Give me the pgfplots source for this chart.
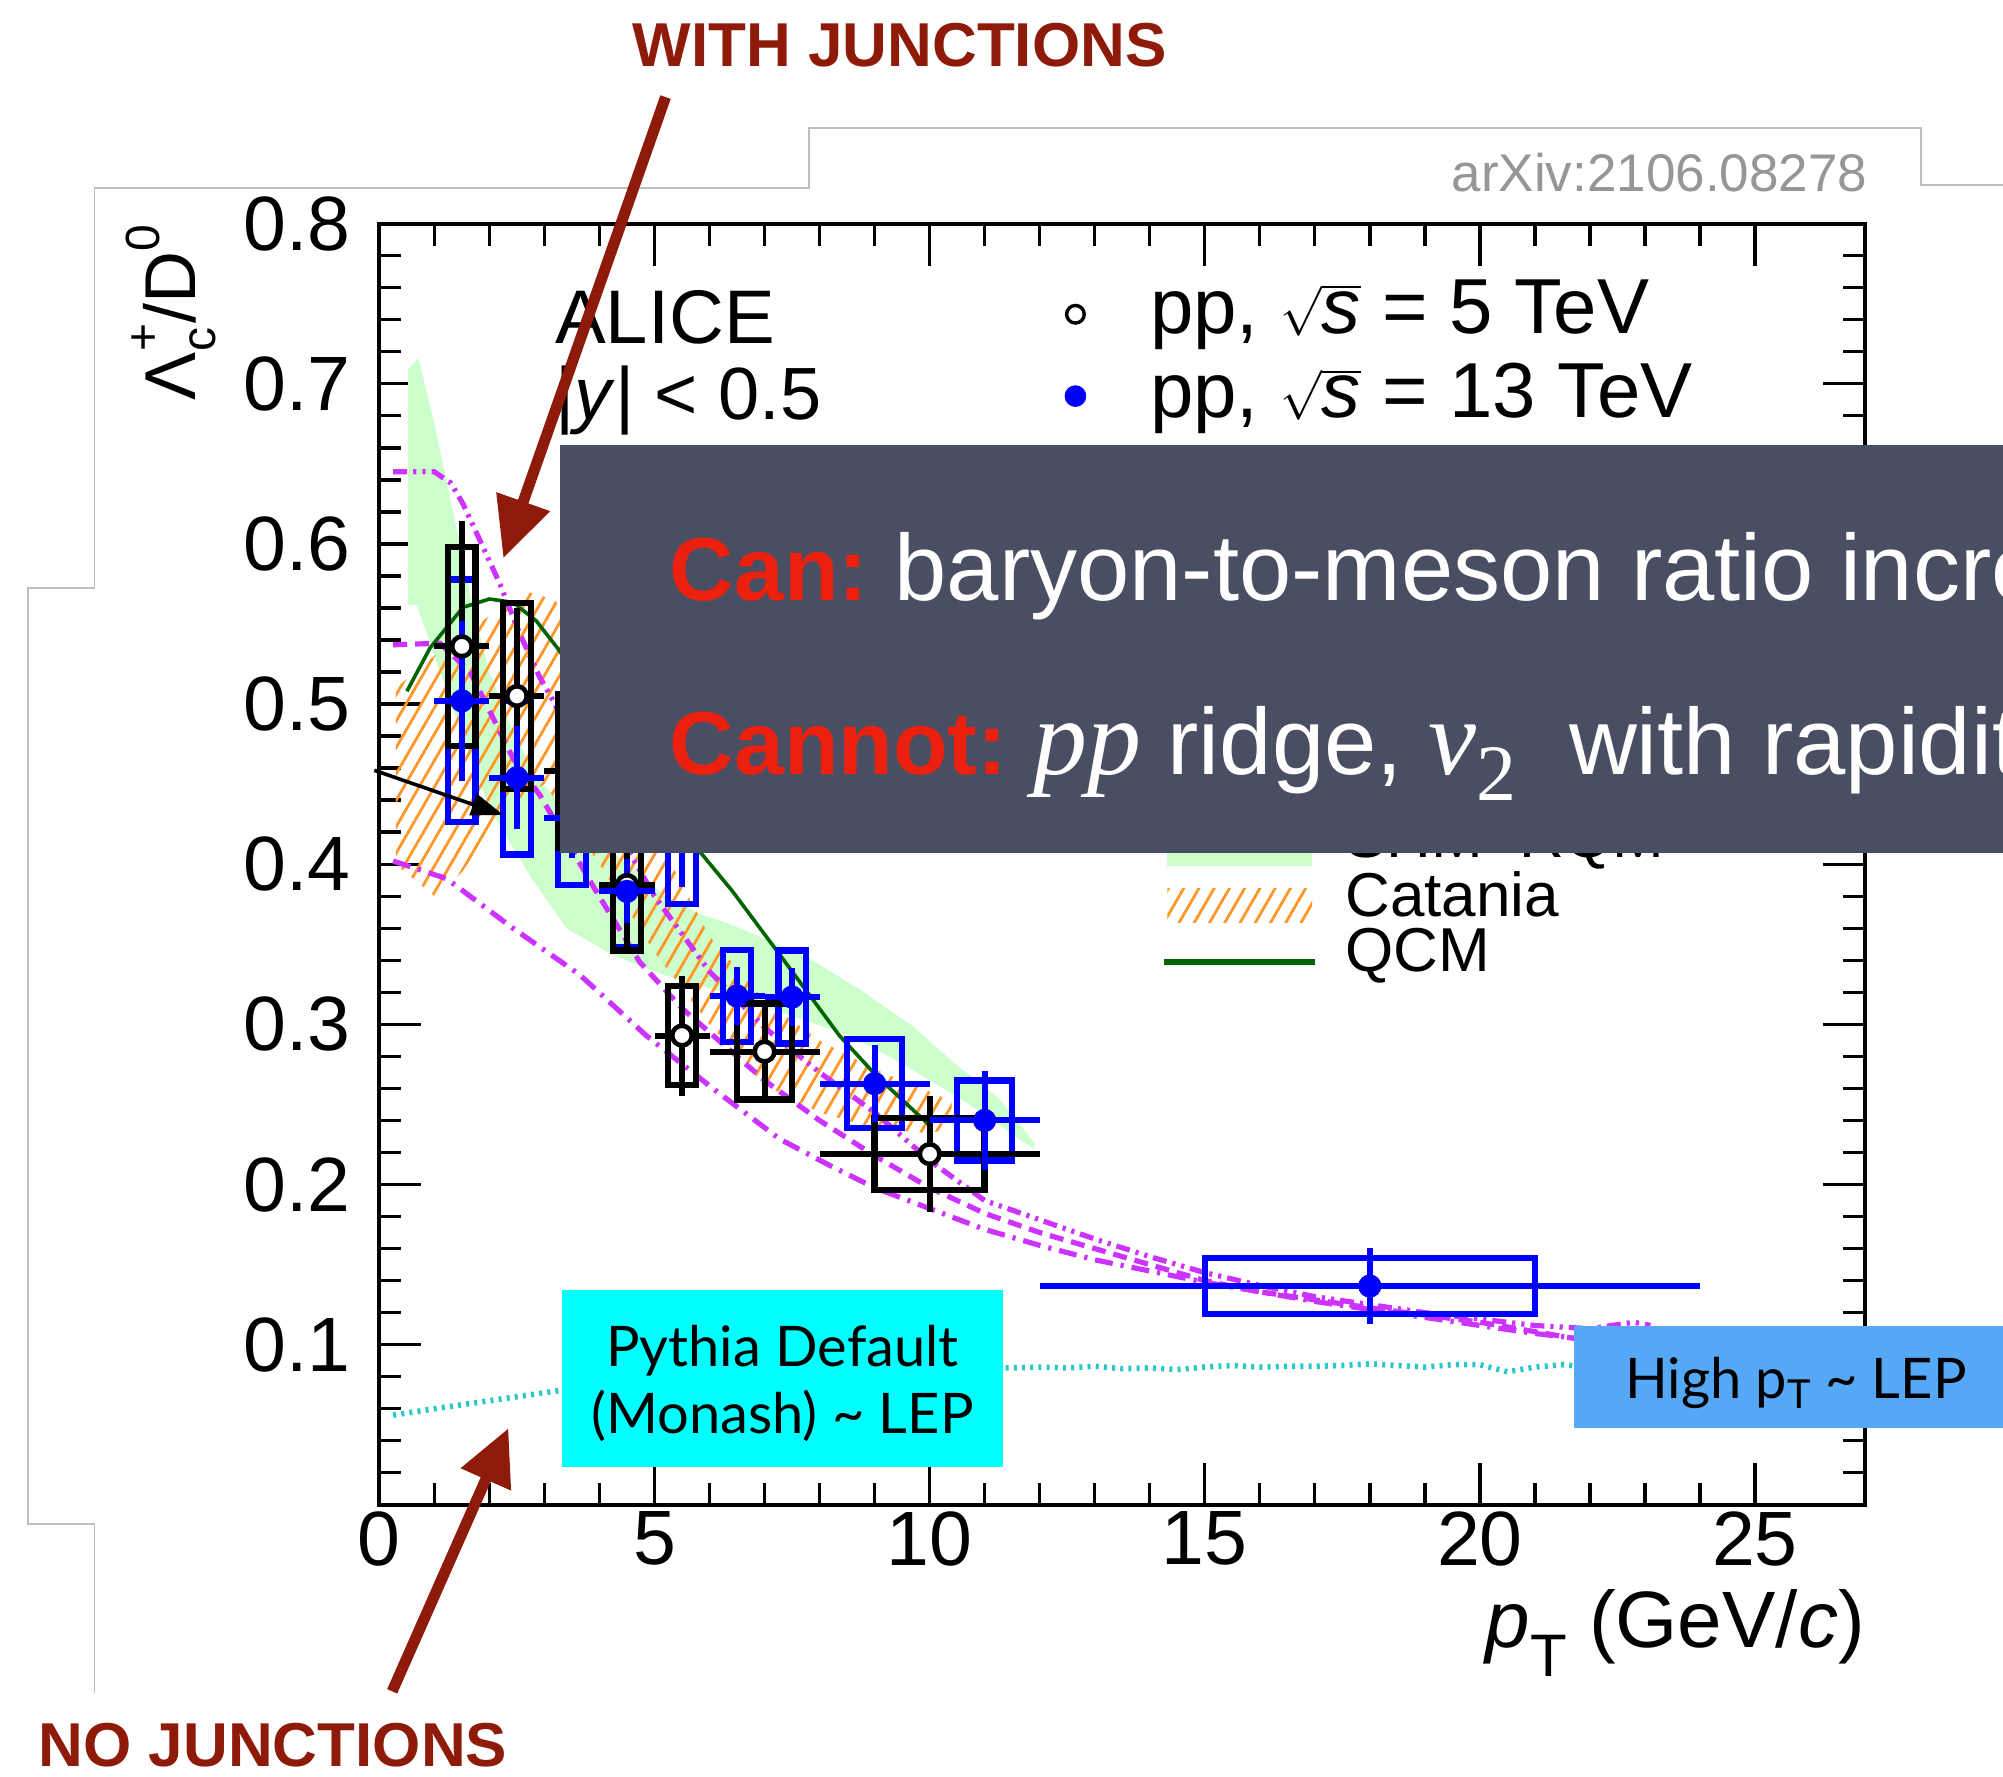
\documentclass[border=0pt]{standalone}
\usepackage{fontspec}
\setmainfont{Liberation Sans}
\newfontfamily\timesfont{Liberation Serif}
\newfontfamily\latofont{Lato}
\usepackage{pgfplots}
\pgfplotsset{compat=1.18}
\usepackage{pgfplotstable}
\usetikzlibrary{arrows.meta,patterns.meta}

\definecolor{annred}{RGB}{142,27,10}
\definecolor{boxgray}{RGB}{74,78,98}
\definecolor{canred}{RGB}{235,32,15}
\definecolor{cyanbox}{RGB}{0,255,255}
\definecolor{highbox}{RGB}{85,168,245}
\definecolor{crmag}{RGB}{204,51,255}
\definecolor{shmgreen}{RGB}{204,255,204}
\definecolor{catorange}{RGB}{255,150,40}
\definecolor{qcmgreen}{RGB}{0,100,0}
\definecolor{cyanline}{RGB}{40,200,200}
\definecolor{framegray}{RGB}{190,190,190}
\definecolor{arxivgray}{RGB}{150,150,150}

% pp 5 TeV: x, y, half bin width, stat, sys
\pgfplotstableread{
x y xe stat sys
1.5 0.536 0.5 0.078 0.062
2.5 0.505 0.5 0.055 0.058
3.5 0.458 0.5 0.045 0.048
4.5 0.387 0.5 0.040 0.041
5.5 0.293 0.5 0.0375 0.031
7.0 0.283 1.0 0.032 0.030
10.0 0.219 2.0 0.036 0.0225
}\fivetev

% pp 13 TeV
\pgfplotstableread{
x y xe stat sys
1.5 0.502 0.5 0.050 0.0757
2.5 0.454 0.5 0.032 0.048
3.5 0.429 0.5 0.025 0.042
4.5 0.383 0.5 0.020 0.035
5.5 0.420 0.5 0.034 0.045
6.5 0.3177 0.5 0.018 0.0287
7.5 0.317 0.5 0.018 0.029
9.0 0.263 1.0 0.024 0.0277
11.0 0.240 1.0 0.031 0.025
18.0 0.1366 6.0 0.0235 0.0175
}\thirteentev

\begin{document}
\begin{tikzpicture}
\useasboundingbox (0,0) rectangle (1001.48pt,-888.43pt);
\begin{scope}[x=0.6387pt,y=-0.6387pt]
\draw[framegray, line width=0.9pt] (74,1325) -- (74,1193) -- (22,1193) -- (22,460) -- (74,460) -- (74,147) -- (633,147) -- (633,100) -- (1504,100) -- (1504,145) -- (1600,145);
\end{scope}

\begin{axis}[
  at={(189.69pt,-752.39pt)}, anchor=south west,
  scale only axis, width=742.8pt, height=640.6pt,
  xmin=0, xmax=27, ymin=0, ymax=0.8,
  xtick={0,5,10,15,20,25}, xticklabels={0,5,10,15,20,25},
  ytick={0,0.1,0.2,0.3,0.4,0.5,0.6,0.7,0.8},
  yticklabels={,0.1,0.2,0.3,0.4,0.5,0.6,0.7,0.8},
  minor x tick num=4, minor y tick num=4,
  tick align=inside, major tick length=21pt, minor tick length=11pt,
  axis line style={line width=1.9pt},
  every tick/.style={black, line width=1.7pt},
  ticklabel style={font=\fontsize{38.5pt}{42pt}\selectfont},
  yticklabel style={xshift=-11pt},
  clip=true,
]
% ---- SHM+RQM band
\addplot[draw=none, fill=shmgreen] coordinates {
(0.52,0.709) (0.71,0.716) (1.0,0.675) (1.4,0.610) (1.7,0.560) (2.0,0.520) (2.4,0.485) (2.85,0.455) (3.5,0.430) (4.5,0.400) (5.2,0.380) (5.82,0.369) (6.42,0.362) (7.1,0.352) (7.82,0.341) (8.72,0.322) (9.69,0.299) (10.42,0.2765) (11.27,0.2535) (11.9,0.226)
(11.9,0.222) (10.66,0.2514) (9.45,0.2765) (8.54,0.293) (7.3,0.3075) (6.06,0.322) (5.16,0.331) (4.25,0.343) (3.4,0.360) (2.73,0.393) (2.0,0.435) (1.3,0.500) (0.68,0.562) (0.52,0.562)
} --cycle;
% ---- Catania band
\addplot[draw=none, pattern={Lines[angle=60,distance=6.6pt,line width=1.4pt]}, pattern color=catorange] coordinates {
(0.3,0.51) (1,0.53) (2,0.555) (2.7,0.57) (3.2,0.565) (4,0.50) (5,0.42) (6,0.355) (7,0.315) (8,0.29) (9,0.272) (10,0.258) (10.4,0.252)
(10.4,0.235) (10,0.232) (9,0.235) (8,0.245) (7,0.262) (6,0.30) (5,0.345) (4,0.40) (3,0.45) (2.5,0.44) (2,0.42) (1.5,0.395) (1,0.38) (0.3,0.40)
} --cycle;
% ---- PYTHIA Monash
\addplot[cyanline, line width=2.8pt, dash pattern=on 1.5pt off 2.6pt] coordinates {
(0.25,0.056) (1,0.060) (2,0.065) (3.3,0.0715) (4,0.074) (5,0.077) (6,0.079) (7,0.081) (8,0.083) (9,0.084) (10,0.085) (11,0.0855) (11.5,0.0855) (12,0.086) (12.5,0.0855) (13,0.0865) (13.5,0.085) (14,0.0855) (14.5,0.0845) (15,0.086) (15.5,0.087) (16,0.086) (16.5,0.0865) (17,0.0865) (17.5,0.087) (18,0.088) (18.5,0.087) (19,0.086) (19.5,0.0875) (20,0.0875) (20.5,0.083) (21,0.086) (21.5,0.0875) (22,0.086) (23,0.086)
};
% ---- PYTHIA CR modes
\addplot[crmag, line width=2.6pt, dash pattern=on 7pt off 3pt on 1.6pt off 3pt on 1.6pt off 3pt] coordinates {
(0.25,0.645) (1.0,0.645) (1.3,0.638) (1.52,0.625) (1.83,0.602) (2.19,0.575) (2.55,0.544) (2.91,0.517) (3.16,0.502) (3.6,0.47) (4,0.445) (4.5,0.41) (5,0.38) (6,0.333) (7,0.298) (8,0.27) (9,0.245) (10,0.215) (11,0.19) (12,0.178) (13,0.166) (14,0.155) (15,0.145) (16,0.137) (17,0.13) (18,0.125) (19,0.12) (20,0.116) (21,0.112) (22,0.11) (22.8,0.114) (23.1,0.112)
};
\addplot[crmag, line width=2.6pt, dash pattern=on 7pt off 4pt] coordinates {
(0.25,0.537) (1.1,0.538) (1.65,0.52) (2.07,0.491) (2.43,0.466) (2.92,0.443) (3.94,0.383) (4.73,0.339) (5.5,0.31) (6,0.295) (7,0.265) (8,0.24) (9,0.218) (10,0.198) (11,0.182) (12,0.17) (14,0.15) (15,0.14) (16,0.133) (18,0.123) (20,0.114) (21.7,0.104) (22.5,0.10)
};
\addplot[crmag, line width=2.6pt, dash pattern=on 9pt off 4pt on 1.6pt off 4pt] coordinates {
(0.25,0.402) (1.22,0.391) (2.43,0.36) (3.64,0.331) (4.85,0.293) (6.06,0.26) (7.27,0.2285) (8.18,0.212) (9,0.198) (10,0.185) (11,0.172) (12,0.162) (13,0.153) (14,0.146) (15,0.139) (16,0.133) (17,0.127) (18,0.122) (19,0.117) (20,0.112) (21,0.107) (22,0.103) (23,0.10)
};
% ---- QCM
\addplot[qcmgreen, line width=1.8pt] coordinates {
(0.5,0.508) (0.92,0.535) (1.52,0.5604) (2.0,0.5656) (2.43,0.5635) (2.85,0.552) (3.28,0.533) (4,0.495) (5,0.447) (5.82,0.408) (6.42,0.383) (7.33,0.341) (8.36,0.293) (9.03,0.268) (9.81,0.243) (10.0,0.237)
};
% ---- systematic boxes, 13 TeV
\addplot[blue, line width=3.2pt, line cap=rect, unbounded coords=jump] coordinates {
(1.25,0.4263) (1.75,0.4263) (1.75,0.5777) (1.25,0.5777) (1.25,0.4263) (nan,nan)
(2.25,0.406) (2.75,0.406) (2.75,0.502) (2.25,0.502) (2.25,0.406) (nan,nan)
(3.25,0.387) (3.75,0.387) (3.75,0.471) (3.25,0.471) (3.25,0.387) (nan,nan)
(4.25,0.348) (4.75,0.348) (4.75,0.418) (4.25,0.418) (4.25,0.348) (nan,nan)
(5.25,0.375) (5.75,0.375) (5.75,0.465) (5.25,0.465) (5.25,0.375) (nan,nan)
(6.25,0.289) (6.75,0.289) (6.75,0.3464) (6.25,0.3464) (6.25,0.289) (nan,nan)
(7.25,0.288) (7.75,0.288) (7.75,0.346) (7.25,0.346) (7.25,0.288) (nan,nan)
(8.5,0.2353) (9.5,0.2353) (9.5,0.2907) (8.5,0.2907) (8.5,0.2353) (nan,nan)
(10.5,0.215) (11.5,0.215) (11.5,0.265) (10.5,0.265) (10.5,0.215) (nan,nan)
(15,0.1191) (21,0.1191) (21,0.1541) (15,0.1541) (15,0.1191)
};
% ---- systematic boxes, 5 TeV
\addplot[black, line width=3.2pt, line cap=rect, unbounded coords=jump] coordinates {
(1.25,0.474) (1.75,0.474) (1.75,0.598) (1.25,0.598) (1.25,0.474) (nan,nan)
(2.25,0.447) (2.75,0.447) (2.75,0.563) (2.25,0.563) (2.25,0.447) (nan,nan)
(3.25,0.410) (3.75,0.410) (3.75,0.506) (3.25,0.506) (3.25,0.410) (nan,nan)
(4.25,0.346) (4.75,0.346) (4.75,0.428) (4.25,0.428) (4.25,0.346) (nan,nan)
(5.25,0.262) (5.75,0.262) (5.75,0.324) (5.25,0.324) (5.25,0.262) (nan,nan)
(6.5,0.253) (7.5,0.253) (7.5,0.313) (6.5,0.313) (6.5,0.253) (nan,nan)
(9,0.1965) (11,0.1965) (11,0.2415) (9,0.2415) (9,0.1965)
};
% ---- 5 TeV stat + markers
\addplot[black, only marks, mark=none, error bars/.cd, x dir=both, x explicit, y dir=both, y explicit, error mark=none, error bar style={line width=3pt, black}]
  table[x=x, y=y, x error=xe, y error=stat] {\fivetev};
\addplot[only marks, mark=*, mark size=4.9pt, mark options={fill=white, draw=black, line width=2.3pt}] table[x=x, y=y] {\fivetev};
% ---- 13 TeV stat + markers
\addplot[blue, only marks, mark=none, error bars/.cd, x dir=both, x explicit, y dir=both, y explicit, error mark=none, error bar style={line width=3pt, blue}]
  table[x=x, y=y, x error=xe, y error=stat] {\thirteentev};
\addplot[only marks, mark=*, mark size=5.6pt, blue, mark options={fill=blue, draw=blue}] table[x=x, y=y] {\thirteentev};

% ---- legend (data)
\addplot[only marks, mark=*, mark size=4.4pt, mark options={fill=white, draw=black, line width=1.7pt}] coordinates {(12.65,0.7434)};
\addplot[only marks, mark=*, mark size=5.2pt, blue] coordinates {(12.65,0.6923)};
\node[anchor=base west, inner sep=0] at (axis cs:14.0,0.7315) {\fontsize{39pt}{44pt}\selectfont pp, $\sqrt{\textit{s}}$ = 5 TeV};
\node[anchor=base west, inner sep=0] at (axis cs:14.0,0.6787) {\fontsize{39pt}{44pt}\selectfont pp, $\sqrt{\textit{s}}$ = 13 TeV};
% ---- legend (models)
\addplot[draw=none, fill=shmgreen] coordinates {(14.32,0.3988) (16.95,0.3988) (16.95,0.4304) (14.32,0.4304)} --cycle;
\addplot[draw=none, pattern={Lines[angle=60,distance=6.6pt,line width=1.4pt]}, pattern color=catorange] coordinates {(14.32,0.3638) (16.95,0.3638) (16.95,0.385) (14.32,0.385)} --cycle;
\addplot[qcmgreen, line width=3.4pt] coordinates {(14.26,0.339) (17.0,0.339)};
\node[anchor=base west, inner sep=0] at (axis cs:17.55,0.4040) {\fontsize{31pt}{34pt}\selectfont SHM+RQM};
\node[anchor=base west, inner sep=0] at (axis cs:17.55,0.3673) {\fontsize{31pt}{34pt}\selectfont Catania};
\node[anchor=base west, inner sep=0] at (axis cs:17.55,0.3330) {\fontsize{31pt}{34pt}\selectfont QCM};
% ---- ALICE labels
\node[anchor=base west, inner sep=0] at (axis cs:3.187,0.7254) {\fontsize{38pt}{42pt}\selectfont ALICE};
\node[anchor=base west, inner sep=0] at (axis cs:3.187,0.6776) {\fontsize{37pt}{42pt}\selectfont |\textit{y}| < 0.5};
\end{axis}

\begin{scope}[x=0.6387pt,y=-0.6387pt]
% axis titles
\node[rotate=90, anchor=base east, inner sep=0] at (153,176) {\fontsize{36pt}{40pt}\selectfont Λ\makebox[0pt][l]{\raisebox{-0.28em}{\fontsize{24pt}{24pt}\selectfont c}}\raisebox{0.5em}{\fontsize{24pt}{24pt}\selectfont +}/D\raisebox{0.5em}{\fontsize{24pt}{24pt}\selectfont 0}};
\node[anchor=base east, inner sep=0] at (1460,1290) {\fontsize{40pt}{44pt}\selectfont\textit{p}\raisebox{-0.36em}{\fontsize{30pt}{30pt}\selectfont T}\ (GeV/\textit{c})};
% arXiv
\node[anchor=base east, inner sep=0, text=arxivgray] at (1462,150) {\fontsize{26.5pt}{30pt}\selectfont arXiv:2106.08278};
% black arrow
\draw[black, line width=1.8pt, -{Triangle[length=16pt, width=11pt]}] (293,603) -- (394,638);
% dark box
\fill[boxgray] (438,348) rectangle (1600,668);
\node[anchor=base west, inner sep=0] at (524,470) {\fontsize{44.7pt}{50pt}\selectfont{\color{canred}\bfseries Can:}\fontsize{47pt}{50pt}\selectfont\ \textcolor{white}{baryon-to-meson ratio increases}};
\node[anchor=base west, inner sep=0] at (524,606) {\fontsize{44.7pt}{50pt}\selectfont{\color{canred}\bfseries Cannot:}\fontsize{47pt}{50pt}\selectfont\ \color{white}{\timesfont\itshape\fontsize{54pt}{60pt}\selectfont pp} ridge, {\timesfont\itshape\fontsize{54pt}{60pt}\selectfont v}\raisebox{-13pt}{\timesfont\fontsize{40pt}{40pt}\selectfont 2} \ with rapidity};
% Pythia box
\fill[cyanbox] (440,1010) rectangle (785,1148);
\node[anchor=base, inner sep=0] at (612.5,1070) {\latofont\fontsize{28pt}{32pt}\selectfont Pythia Default};
\node[anchor=base, inner sep=0] at (612.5,1122) {\latofont\fontsize{28pt}{32pt}\selectfont (Monash) \textasciitilde{} LEP};
% High pT box
\fill[highbox] (1232,1038) rectangle (1600,1118);
\node[anchor=base west, inner sep=0] at (1272,1095) {\latofont\fontsize{28pt}{32pt}\selectfont High p\raisebox{-5pt}{\fontsize{20pt}{20pt}\selectfont T} \textasciitilde{} LEP};
% annotations
\node[anchor=base west, inner sep=0, text=annred] at (495,52) {\fontsize{31pt}{34pt}\selectfont\bfseries WITH JUNCTIONS};
\draw[annred, line width=5.5pt, -{Triangle[length=30pt, width=27pt]}] (521,76) -- (394,437);
\node[anchor=base west, inner sep=0, text=annred] at (30,1383) {\fontsize{31pt}{34pt}\selectfont\bfseries NO JUNCTIONS};
\draw[annred, line width=5.5pt, -{Triangle[length=28pt, width=26pt]}] (307,1324) -- (398,1118);
\end{scope}
\end{tikzpicture}
\end{document}
